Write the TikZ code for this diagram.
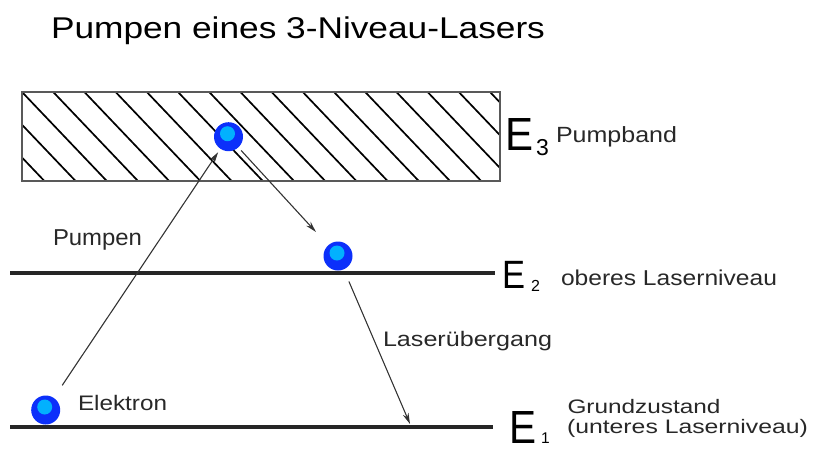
\documentclass[tikz,border=0pt]{standalone}
\usepackage{fontspec}
\setmainfont{Liberation Sans}
\usetikzlibrary{arrows.meta}
\definecolor{eblue}{RGB}{12,48,250}
\definecolor{ecyan}{RGB}{0,200,255}
\definecolor{txtgray}{RGB}{40,40,40}
\newcommand{\fs}[1]{\fontsize{#1}{#1}\selectfont}
\newcommand{\fitw}[2]{\resizebox{#1}{\height}{#2}}
\begin{document}
\begin{tikzpicture}[x=1pt,y=-1pt,
  lbl/.style={anchor=base west, inner sep=0pt, outer sep=0pt, text=txtgray},
  elabel/.style={anchor=base west, inner sep=0pt, outer sep=0pt, text=black},
  level/.style={line width=3.2pt, draw=black!85},
  hatchline/.style={line width=1.7pt, draw=black},
  bandframe/.style={line width=1.6pt, draw=black!65},
  arr/.style={line width=1.1pt, draw=black!80, -{Stealth[length=11pt,width=6pt]}},
  electron/.style={circle, minimum size=29pt, inner sep=0pt, fill=eblue,
    path picture={\fill[ecyan!85!eblue] ([xshift=-1pt,yshift=3pt]path picture bounding box.center) circle (7.5pt);}},
]
\useasboundingbox (0,0) rectangle (813,459);

% title
\node[elabel] (title) at (51,38.3) {\fitw{494pt}{\fs{30}Pumpen eines 3-Niveau-Lasers}};

% pump band (hatched)
\begin{scope}
  \clip (22,92) rectangle (500,181);
  \foreach \k in {-4,...,15} {
    \draw[hatchline] ({22+31.2*\k},92) -- ({22+31.2*\k+84.8},181);
  }
\end{scope}
\draw[bandframe] (22,92) rectangle (500,181);

% levels
\coordinate (l2a) at (10,273);
\coordinate (l2b) at (495,273);
\coordinate (l1a) at (10,427);
\coordinate (l1b) at (493,427);
\draw[level] (l2a) -- (l2b);
\draw[level] (l1a) -- (l1b);

% electrons
\node[electron] (e3) at (228.5,136.7) {};
\node[electron] (e2) at (338,256) {};
\node[electron] (e1) at (45.7,410) {};

% transitions
\coordinate (lasend) at (410,424);
\draw[arr, shorten <=15pt, shorten >=4pt] (e1) -- (e3);
\draw[arr, shorten <=4pt, shorten >=18pt] (e3) -- (e2);
\draw[arr, shorten <=13pt] (e2) -- (lasend);

% labels
\node[lbl] (pumpen) at (53,245) {\fitw{89pt}{\fs{23}Pumpen}};
\node[lbl] (elektron) at (78,410) {\fitw{89pt}{\fs{21}Elektron}};
\node[lbl] (laser) at (383,346.7) {\fitw{169pt}{\fs{21}Laserübergang}};

% energy labels
\node[elabel] (E3) at (505,150) {\fitw{28pt}{\fs{46.5}E}};
\node[elabel] (s3) at (536,155) {\fs{23}3};
\node[lbl] (pumpband) at (556,142.3) {\fitw{121pt}{\fs{22}Pumpband}};

\node[elabel] (E2) at (502.5,288.3) {\fitw{23pt}{\fs{39.5}E}};
\node[elabel] (s2) at (531,291.7) {\fs{16}2};
\node[lbl] (oberes) at (561,285) {\fitw{216pt}{\fs{21.5}oberes Laserniveau}};

\node[elabel] (E1) at (509,443.3) {\fitw{27pt}{\fs{46.5}E}};
\node[elabel] (s1) at (541,443.3) {\fs{15.5}1};
\node[lbl] (grund) at (567.5,413.5) {\fitw{153pt}{\fs{19.5}Grundzustand}};
\node[lbl] (unteres) at (567,433.5) {\fitw{241pt}{\fs{19.5}(unteres Laserniveau)}};
\end{tikzpicture}
\end{document}
